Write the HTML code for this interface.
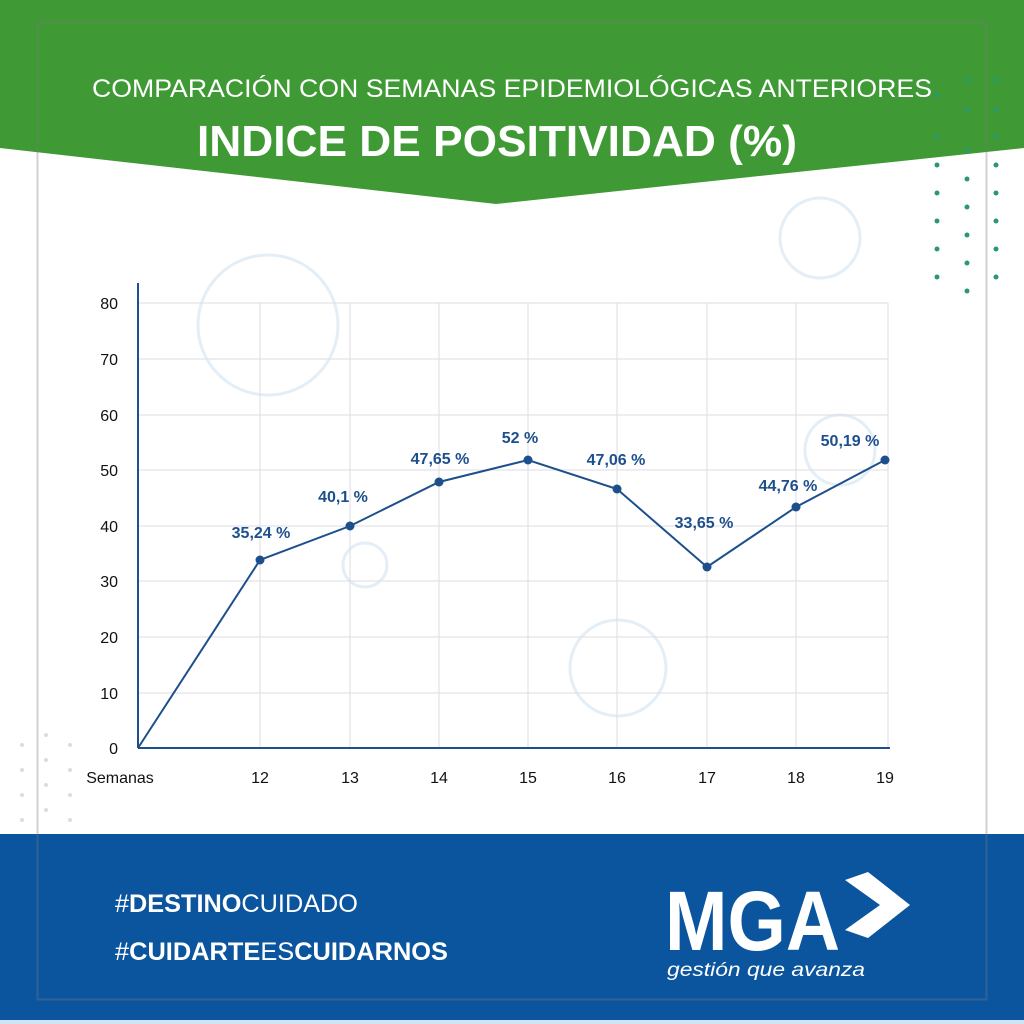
<!DOCTYPE html>
<html><head><meta charset="utf-8"><style>
body{margin:0;width:1024px;height:1024px;overflow:hidden;background:#fff;font-family:"Liberation Sans",sans-serif}
</style></head><body>
<svg width="1024" height="1024" viewBox="0 0 1024 1024" xmlns="http://www.w3.org/2000/svg" style="position:absolute;left:0;top:0">
<rect width="1024" height="1024" fill="#fff"/>
<polygon points="0,0 1024,0 1024,148 496,204 0,148" fill="#3f9a35"/>
<rect x="0" y="834" width="1024" height="186" fill="#0b559e"/>
<rect x="0" y="1020" width="1024" height="4" fill="#cfe3f3"/>
<rect x="37.5" y="22.5" width="949" height="977" fill="none" stroke="#777" stroke-opacity="0.35" stroke-width="2"/>
<g fill="#2a9a6a">
<circle cx="967" cy="80" r="2.5"/><circle cx="996" cy="80" r="2.5"/>
<circle cx="937" cy="95" r="2.5"/><circle cx="967" cy="110" r="2.5"/><circle cx="996" cy="110" r="2.5"/>
<circle cx="937" cy="137" r="2.5"/><circle cx="967" cy="150" r="2.5"/><circle cx="996" cy="137" r="2.5"/>
<circle cx="937" cy="165" r="2.5"/><circle cx="967" cy="179" r="2.5"/><circle cx="996" cy="165" r="2.5"/>
<circle cx="937" cy="193" r="2.5"/><circle cx="967" cy="207" r="2.5"/><circle cx="996" cy="193" r="2.5"/>
<circle cx="937" cy="221" r="2.5"/><circle cx="967" cy="235" r="2.5"/><circle cx="996" cy="221" r="2.5"/>
<circle cx="937" cy="249" r="2.5"/><circle cx="967" cy="263" r="2.5"/><circle cx="996" cy="249" r="2.5"/>
<circle cx="937" cy="277" r="2.5"/><circle cx="967" cy="291" r="2.5"/><circle cx="996" cy="277" r="2.5"/>
</g>
<g fill="#ccd" opacity="0.7">
<circle cx="22" cy="745" r="2"/><circle cx="46" cy="735" r="2"/><circle cx="70" cy="745" r="2"/>
<circle cx="22" cy="770" r="2"/><circle cx="46" cy="760" r="2"/><circle cx="70" cy="770" r="2"/>
<circle cx="22" cy="795" r="2"/><circle cx="46" cy="785" r="2"/><circle cx="70" cy="795" r="2"/>
<circle cx="22" cy="820" r="2"/><circle cx="46" cy="810" r="2"/><circle cx="70" cy="820" r="2"/>
</g>
<g fill="none" stroke="#e4eef7" stroke-width="3">
<circle cx="268" cy="325" r="70"/><circle cx="820" cy="238" r="40"/><circle cx="618" cy="668" r="48"/><circle cx="365" cy="565" r="22"/><circle cx="840" cy="450" r="35"/>
</g>
<g stroke="#dcdde2" stroke-width="1">
<line x1="138" y1="303" x2="888" y2="303"/><line x1="138" y1="359" x2="888" y2="359"/><line x1="138" y1="415" x2="888" y2="415"/><line x1="138" y1="470" x2="888" y2="470"/><line x1="138" y1="526" x2="888" y2="526"/><line x1="138" y1="581" x2="888" y2="581"/><line x1="138" y1="637" x2="888" y2="637"/><line x1="138" y1="693" x2="888" y2="693"/>
<line x1="260" y1="303" x2="260" y2="748"/><line x1="350" y1="303" x2="350" y2="748"/><line x1="439" y1="303" x2="439" y2="748"/><line x1="528" y1="303" x2="528" y2="748"/><line x1="617" y1="303" x2="617" y2="748"/><line x1="707" y1="303" x2="707" y2="748"/><line x1="796" y1="303" x2="796" y2="748"/><line x1="888" y1="303" x2="888" y2="748"/>
</g>
<line x1="138" y1="283" x2="138" y2="748" stroke="#1d4f8c" stroke-width="2"/>
<line x1="138" y1="748" x2="890" y2="748" stroke="#1d4f8c" stroke-width="2"/>
<polyline points="138,748 260,560 350,526 439,482 528,460 617,489 707,567 796,507 885,460" fill="none" stroke="#1d4f8c" stroke-width="2"/>
<g fill="#1d4f8c"><circle cx="260" cy="560" r="4.5"/><circle cx="350" cy="526" r="4.5"/><circle cx="439" cy="482" r="4.5"/><circle cx="528" cy="460" r="4.5"/><circle cx="617" cy="489" r="4.5"/><circle cx="707" cy="567" r="4.5"/><circle cx="796" cy="507" r="4.5"/><circle cx="885" cy="460" r="4.5"/></g>
<g font-family="Liberation Sans" font-size="16" font-weight="bold" fill="#1d4f8c" text-anchor="middle">
<text x="261" y="538">35,24 %</text><text x="343" y="502">40,1 %</text><text x="440" y="464">47,65 %</text><text x="520" y="443">52 %</text><text x="616" y="465">47,06 %</text><text x="704" y="528">33,65 %</text><text x="788" y="491">44,76 %</text><text x="850" y="446">50,19 %</text>
</g>
<g font-family="Liberation Sans" font-size="16" fill="#111" text-anchor="end">
<text x="118" y="309">80</text><text x="118" y="365">70</text><text x="118" y="421">60</text><text x="118" y="476">50</text><text x="118" y="532">40</text><text x="118" y="587">30</text><text x="118" y="643">20</text><text x="118" y="699">10</text><text x="118" y="754">0</text>
</g>
<g font-family="Liberation Sans" font-size="16" fill="#111" text-anchor="middle">
<text x="120" y="783">Semanas</text><text x="260" y="783">12</text><text x="350" y="783">13</text><text x="439" y="783">14</text><text x="528" y="783">15</text><text x="617" y="783">16</text><text x="707" y="783">17</text><text x="796" y="783">18</text><text x="885" y="783">19</text>
</g>
<text x="512" y="97" font-family="Liberation Sans" font-size="25" fill="#fff" text-anchor="middle" textLength="840" lengthAdjust="spacingAndGlyphs">COMPARACIÓN CON SEMANAS EPIDEMIOLÓGICAS ANTERIORES</text>
<text x="497" y="156" font-family="Liberation Sans" font-size="44" font-weight="bold" fill="#fff" text-anchor="middle" textLength="600" lengthAdjust="spacingAndGlyphs">INDICE DE POSITIVIDAD (%)</text>
<text x="115" y="912" font-family="Liberation Sans" font-size="25" fill="#fff" textLength="243" lengthAdjust="spacingAndGlyphs">#<tspan font-weight="bold">DESTINO</tspan>CUIDADO</text>
<text x="115" y="960" font-family="Liberation Sans" font-size="25" fill="#fff" textLength="333" lengthAdjust="spacingAndGlyphs">#<tspan font-weight="bold">CUIDARTE</tspan>ES<tspan font-weight="bold">CUIDARNOS</tspan></text>
<text x="665" y="950" font-family="Liberation Sans" font-size="84" font-weight="bold" fill="#fff" textLength="175" lengthAdjust="spacingAndGlyphs">MGA</text>
<polygon points="845,880 868,872 910,905 868,938 845,930 880,905" fill="#fff"/>
<text x="667" y="976" font-family="Liberation Sans" font-size="19" font-style="italic" fill="#fff" textLength="198" lengthAdjust="spacingAndGlyphs">gestión que avanza</text>
</svg>
</body></html>
